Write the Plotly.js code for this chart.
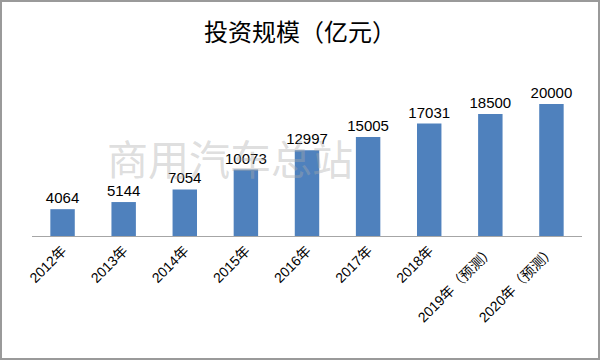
<!DOCTYPE html>
<html><head><meta charset="utf-8">
<script src="https://cdn.plot.ly/plotly-3.0.1.min.js"></script>
<style>
html,body{margin:0;padding:0;background:#fff;}
#frame{width:596px;height:356px;border:2px solid #9a9a9a;}
#chart{width:596px;height:356px;}
</style></head>
<body><div id="frame"><div id="chart"></div></div>
<script>
const categories = ["2012年","2013年","2014年","2015年","2016年","2017年","2018年","2019年（预测）","2020年（预测）"];
const values = [4064,5144,7054,10073,12997,15005,17031,18500,20000];
const titleText = "投资规模（亿元）";
const watermark = "商用汽车总站";

const trace = {
  type: "bar",
  x: categories,
  y: values,
  marker: {color: "#4F81BD"},
  width: 0.4,
  text: values.map(String),
  textposition: "outside",
  constraintext: "none",
  cliponaxis: false,
  textfont: {family: "Liberation Sans, Arial, sans-serif", size: 15, color: "#000"},
  hoverinfo: "none"
};
const layout = {
  width: 596, height: 356,
  margin: {l: 30, r: 16, t: 69, b: 122},
  paper_bgcolor: "#fff", plot_bgcolor: "#fff",
  showlegend: false,
  title: {text: titleText, x: 0.5, xanchor: "center", yref: "container", y: 0.913, yanchor: "middle",
          font: {family: "Noto Sans CJK SC, sans-serif", size: 24, color: "#000"}},
  xaxis: {type: "category", showline: true, linecolor: "#a6a6a6", linewidth: 1,
          ticks: "", tickangle: -45, showgrid: false, zeroline: false,
          tickfont: {family: "Liberation Sans, Noto Sans CJK SC, sans-serif", size: 14, color: "#000"}},
  yaxis: {range: [0, 25000], visible: false, showgrid: false, zeroline: false},
  annotations: [{
    text: watermark, xref: "paper", yref: "paper", x: 0.36, y: 0.48,
    xanchor: "center", yanchor: "middle", showarrow: false,
    font: {family: "Noto Sans CJK SC, sans-serif", size: 41, color: "rgba(170,170,170,0.4)"}
  }],
  bargap: 0.6
};
Plotly.newPlot("chart", [trace], layout, {staticPlot: true, displayModeBar: false});
</script></body></html>
